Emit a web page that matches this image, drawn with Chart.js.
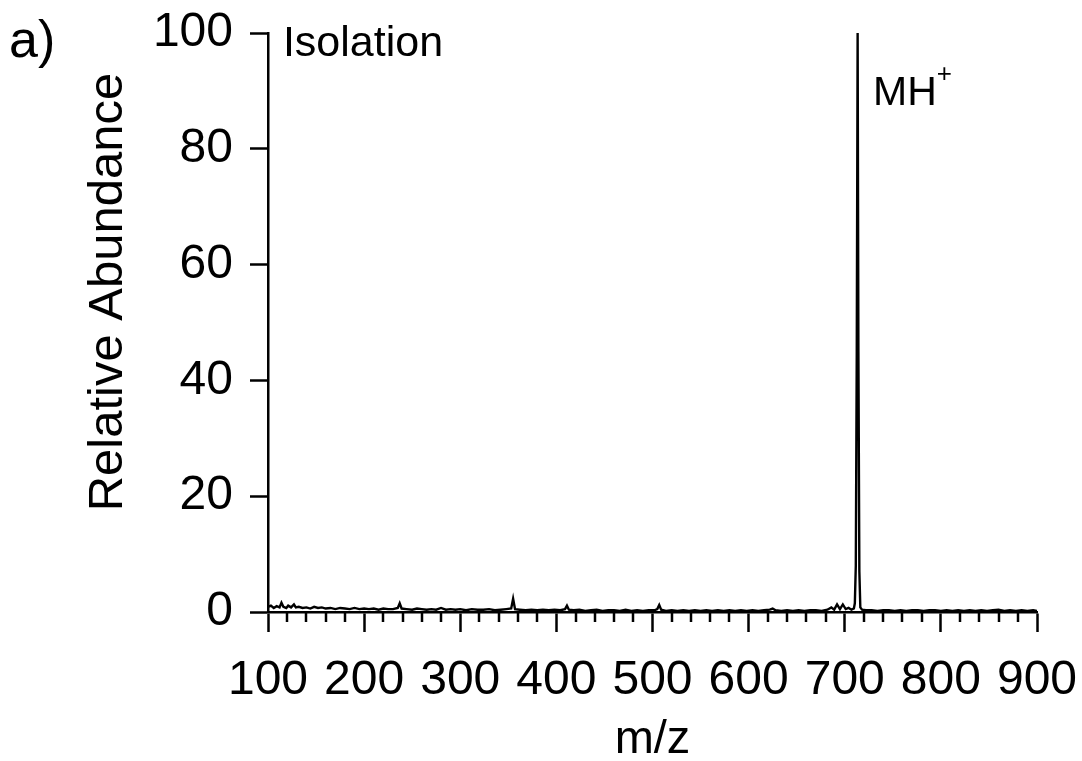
<!DOCTYPE html>
<html>
<head>
<meta charset="utf-8">
<script src="https://cdn.jsdelivr.net/npm/chart.js@4.4.1/dist/chart.umd.min.js"></script>
<style>
  html, body { margin: 0; padding: 0; background: #fff; }
  #wrap { width: 1082px; height: 761px; }
</style>
</head>
<body>
<div id="wrap"><canvas id="spectrum"></canvas></div>
<script>
// m/z positions (baseline noise, small spikes, MH+ peak)
const mzValues = [
  100, 103, 106, 109, 112, 114, 116, 119, 121, 124, 127, 129, 132, 136, 140, 144, 148, 152, 156, 160,
  165, 170, 175, 180, 185, 190, 195, 200, 205, 210, 215, 220, 225, 230, 235, 237, 239, 244, 250, 255,
  260, 265, 270, 275, 280, 285, 290, 295, 300, 306, 312, 318, 324, 330, 336, 342, 348, 353, 355, 357,
  362, 368, 374, 380, 386, 392, 398, 404, 409, 411, 413, 418, 424, 430, 436, 442, 448, 454, 460, 466,
  472, 478, 484, 490, 496, 502, 505, 507, 509, 514, 520, 526, 532, 538, 544, 550, 556, 562, 568, 574,
  580, 586, 592, 598, 604, 610, 616, 622, 625, 628, 634, 640, 646, 652, 658, 664, 670, 676, 682, 686,
  689, 692, 695, 698, 701, 704, 707, 709.5, 710.5, 711.5, 712.5, 713.4, 714.2, 715.2, 716.2, 718, 722,
  728, 734, 740, 746, 752, 758, 764, 770, 776, 782, 788, 794, 800, 806, 812, 818, 824, 830, 836, 842,
  848, 854, 860, 866, 872, 878, 884, 890, 896, 900
];
const abundance = [
  0.9, 1.1, 0.7, 1.0, 0.8, 1.6, 0.9, 0.7, 1.1, 0.8, 1.3, 0.8, 0.9, 0.7, 0.8, 0.6, 0.9, 0.7, 0.8, 0.6,
  0.7, 0.5, 0.7, 0.6, 0.5, 0.7, 0.5, 0.6, 0.5, 0.6, 0.4, 0.6, 0.5, 0.5, 0.7, 1.5, 0.6, 0.5, 0.4, 0.6,
  0.5, 0.4, 0.5, 0.4, 0.7, 0.4, 0.5, 0.4, 0.5, 0.3, 0.5, 0.4, 0.4, 0.5, 0.3, 0.4, 0.5, 0.6, 2.3, 0.5,
  0.4, 0.3, 0.4, 0.3, 0.4, 0.3, 0.4, 0.3, 0.5, 1.1, 0.4, 0.3, 0.4, 0.2, 0.3, 0.4, 0.2, 0.3, 0.3, 0.2,
  0.4, 0.2, 0.3, 0.2, 0.3, 0.3, 0.5, 1.2, 0.4, 0.2, 0.3, 0.2, 0.3, 0.2, 0.3, 0.2, 0.3, 0.2, 0.3, 0.2,
  0.3, 0.2, 0.3, 0.2, 0.3, 0.2, 0.3, 0.4, 0.6, 0.3, 0.2, 0.3, 0.2, 0.3, 0.2, 0.3, 0.3, 0.2, 0.4, 0.8,
  0.4, 1.3, 0.5, 1.3, 0.5, 0.7, 0.4, 0.6, 1.5, 8, 45, 100, 45, 7, 0.8, 0.4, 0.3,
  0.3, 0.2, 0.3, 0.3, 0.2, 0.3, 0.2, 0.3, 0.3, 0.2, 0.3, 0.3, 0.2, 0.3, 0.2, 0.3, 0.2, 0.3, 0.2, 0.3,
  0.2, 0.3, 0.4, 0.2, 0.3, 0.2, 0.3, 0.2, 0.3, 0.2
];

const xTickStep = 100;
const xMinorStep = 20;
const yTickStep = 20;

const FONT = "'Liberation Sans', Arial, Helvetica, sans-serif";

const points = mzValues.map((mz, i) => ({ x: mz, y: abundance[i] }));

// minor ticks on the m/z axis, placed through the x scale
const minorTicks = {
  id: 'minorTicks',
  afterDraw(chart) {
    const xs = chart.scales.x;
    const ctx = chart.ctx;
    const bottom = chart.chartArea.bottom;
    ctx.save();
    ctx.strokeStyle = '#000';
    ctx.lineWidth = 2.5;
    for (let v = xs.min + xMinorStep; v < xs.max; v += xMinorStep) {
      if (v % xTickStep === 0) continue;
      const px = Math.round(xs.getPixelForValue(v));
      ctx.beginPath();
      ctx.moveTo(px, bottom);
      ctx.lineTo(px, bottom + 10);
      ctx.stroke();
    }
    ctx.restore();
  }
};

// text labels: y title, peak labels, panel letter
const labels = {
  id: 'labels',
  afterDraw(chart) {
    const xs = chart.scales.x, ys = chart.scales.y;
    const ctx = chart.ctx;
    ctx.save();
    ctx.fillStyle = '#000';

    // y axis title, shifted up like in the original figure
    ctx.save();
    ctx.translate(122, 292);
    ctx.rotate(-Math.PI / 2);
    ctx.textAlign = 'center';
    ctx.textBaseline = 'alphabetic';
    ctx.font = '49px ' + FONT;
    ctx.fillText('Relative Abundance', 0, 0);
    ctx.restore();

    ctx.textBaseline = 'middle';
    ctx.textAlign = 'left';
    ctx.font = '43px ' + FONT;
    ctx.fillText('Isolation', xs.getPixelForValue(115.5), ys.getPixelForValue(98));

    ctx.font = '41px ' + FONT;
    const mhX = xs.getPixelForValue(729.5);
    const mhY = ys.getPixelForValue(89.5);
    ctx.fillText('MH', mhX, mhY);
    const w = ctx.measureText('MH').width;
    ctx.font = '26px ' + FONT;
    ctx.fillText('+', mhX + w, mhY - 19);

    ctx.font = '52px ' + FONT;
    ctx.fillText('a)', 9, 43);
    ctx.restore();
  }
};

new Chart(document.getElementById('spectrum'), {
  type: 'scatter',
  data: {
    datasets: [{
      data: points,
      showLine: true,
      borderColor: '#000',
      borderWidth: 2.4,
      pointRadius: 0,
      tension: 0
    }]
  },
  options: {
    responsive: true,
    maintainAspectRatio: false,
    animation: false,
    layout: { padding: { top: 33, right: 45, left: 0, bottom: 0 } },
    plugins: { legend: { display: false }, tooltip: { enabled: false } },
    scales: {
      x: {
        type: 'linear',
        min: 100,
        max: 900,
        afterFit(scale) {
          scale.height = 149;
          scale.paddingLeft = 0;
          scale.paddingRight = 0;
        },
        ticks: {
          stepSize: xTickStep,
          autoSkip: false,
          maxRotation: 0,
          padding: 20,
          color: '#000',
          font: { family: FONT, size: 48 }
        },
        grid: { drawOnChartArea: false, tickLength: 20, tickColor: '#000', tickWidth: 2.5 },
        border: { color: '#000', width: 2.5 },
        title: {
          display: true,
          text: 'm/z',
          color: '#000',
          font: { family: FONT, size: 47 },
          padding: { top: 0, bottom: -7 }
        }
      },
      y: {
        min: 0,
        max: 100,
        afterFit(scale) {
          scale.width = 268;
          scale.paddingTop = 0;
          scale.paddingBottom = 0;
        },
        ticks: {
          stepSize: yTickStep,
          padding: 17,
          color: '#000',
          font: { family: FONT, size: 48 }
        },
        grid: { drawOnChartArea: false, tickLength: 18, tickColor: '#000', tickWidth: 2.5 },
        border: { color: '#000', width: 2.5 }
      }
    }
  },
  plugins: [minorTicks, labels]
});
</script>
</body>
</html>
